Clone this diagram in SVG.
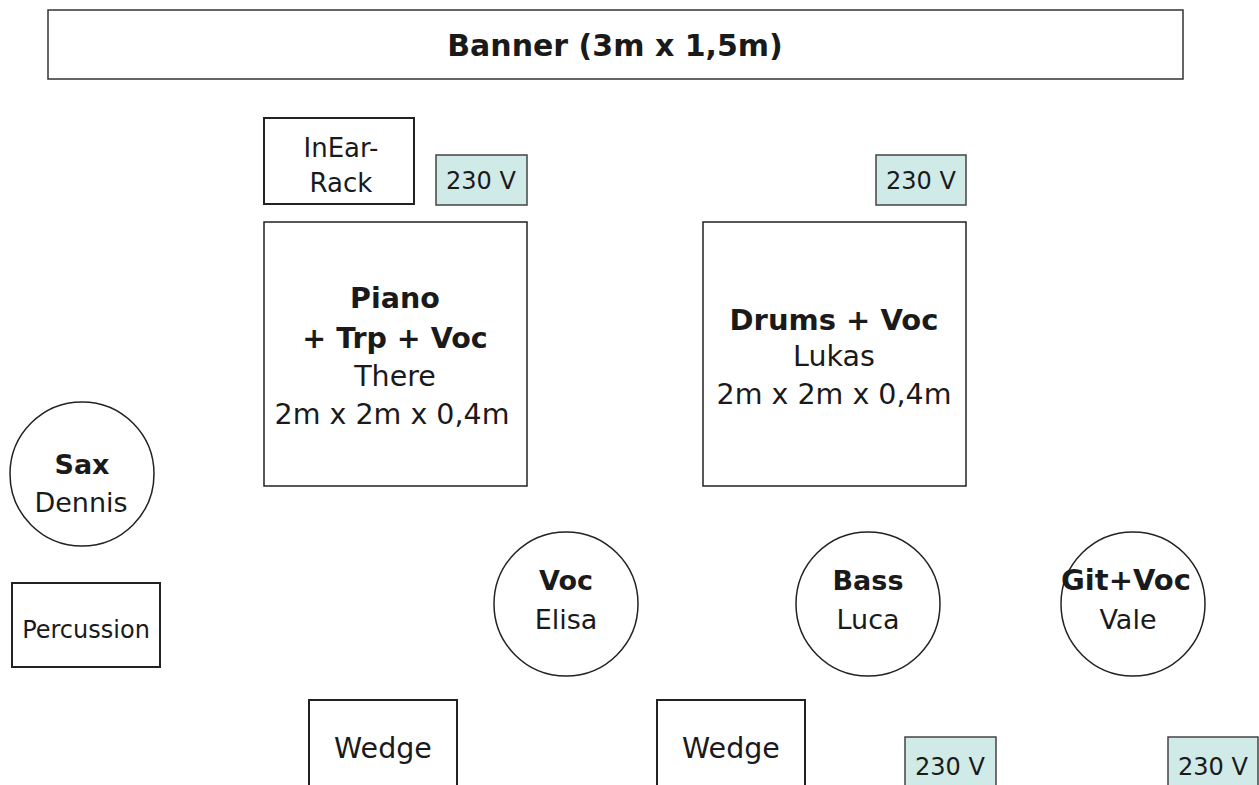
<svg xmlns="http://www.w3.org/2000/svg" width="1259" height="785" viewBox="0 0 1259 785">
<style>
text{font-family:"DejaVu Sans","Liberation Sans",sans-serif;fill:#1a1a1a;text-anchor:middle}
.b{font-weight:bold}
.box{fill:#fff;stroke:#222;stroke-width:2}
.thin{fill:#fff;stroke:#333;stroke-width:1.5}
.pwr{fill:#d0eae7;stroke:#444;stroke-width:1.5}
.circ{fill:#fff;stroke:#222;stroke-width:1.5}
.t29{font-size:29px}
.t28{font-size:28.5px}
.t27{font-size:27px}
.t26{font-size:26px}
.t24{font-size:24px}
</style>
<rect width="1259" height="785" fill="#fff"/>
<g id="banner"><rect class="thin" x="48" y="10" width="1135" height="69"/><text class="b" x="615" y="56" font-size="30">Banner (3m x 1,5m)</text></g>
<g id="inear"><rect class="box" x="264" y="118" width="150" height="86"/><text class="t26" x="341" y="157">InEar-</text><text class="t26" x="341" y="192">Rack</text></g>
<g id="pwr1"><rect class="pwr" x="436" y="155" width="91" height="50"/><text class="t24" x="481" y="189">230 V</text></g>
<g id="pwr2"><rect class="pwr" x="876" y="155" width="90" height="50"/><text class="t24" x="921" y="189">230 V</text></g>
<g id="piano"><rect class="box" x="264" y="222" width="263" height="264" style="stroke-width:1.5"/><text class="t28 b" x="395" y="308">Piano</text><text class="t28 b" x="395" y="348">+ Trp + Voc</text><text class="t28" x="395" y="386">There</text><text class="t28" x="392" y="424">2m x 2m x 0,4m</text></g>
<g id="drums"><rect class="box" x="703" y="222" width="263" height="264" style="stroke-width:1.5"/><text class="t29 b" x="834" y="330">Drums + Voc</text><text class="t28" x="834" y="366">Lukas</text><text class="t28" x="834" y="404">2m x 2m x 0,4m</text></g>
<g id="sax"><circle class="circ" cx="82" cy="474" r="72"/><text class="t27 b" x="82" y="474">Sax</text><text class="t27" x="81" y="512">Dennis</text></g>
<g id="perc"><rect class="box" x="12" y="583" width="148" height="84"/><text class="t24" x="86" y="638">Percussion</text></g>
<g id="voc"><circle class="circ" cx="566" cy="604" r="72"/><text class="t27 b" x="566" y="590">Voc</text><text class="t27" x="566" y="629">Elisa</text></g>
<g id="bass"><circle class="circ" cx="868" cy="604" r="72"/><text class="t27 b" x="868" y="590">Bass</text><text class="t27" x="868" y="629">Luca</text></g>
<g id="git"><circle class="circ" cx="1133" cy="604" r="72"/><text class="b" x="1126" y="590" font-size="29">Git+Voc</text><text class="t27" x="1128" y="629">Vale</text></g>
<g id="wedge1"><rect class="box" x="309" y="700" width="148" height="100"/><text class="t28" x="383" y="758">Wedge</text></g>
<g id="wedge2"><rect class="box" x="657" y="700" width="148" height="100"/><text class="t28" x="731" y="758">Wedge</text></g>
<g id="pwr3"><rect class="pwr" x="905" y="737" width="91" height="60"/><text class="t24" x="950" y="775">230 V</text></g>
<g id="pwr4"><rect class="pwr" x="1168" y="737" width="90" height="60"/><text class="t24" x="1213" y="775">230 V</text></g>
<g id="connectors"/>
</svg>
